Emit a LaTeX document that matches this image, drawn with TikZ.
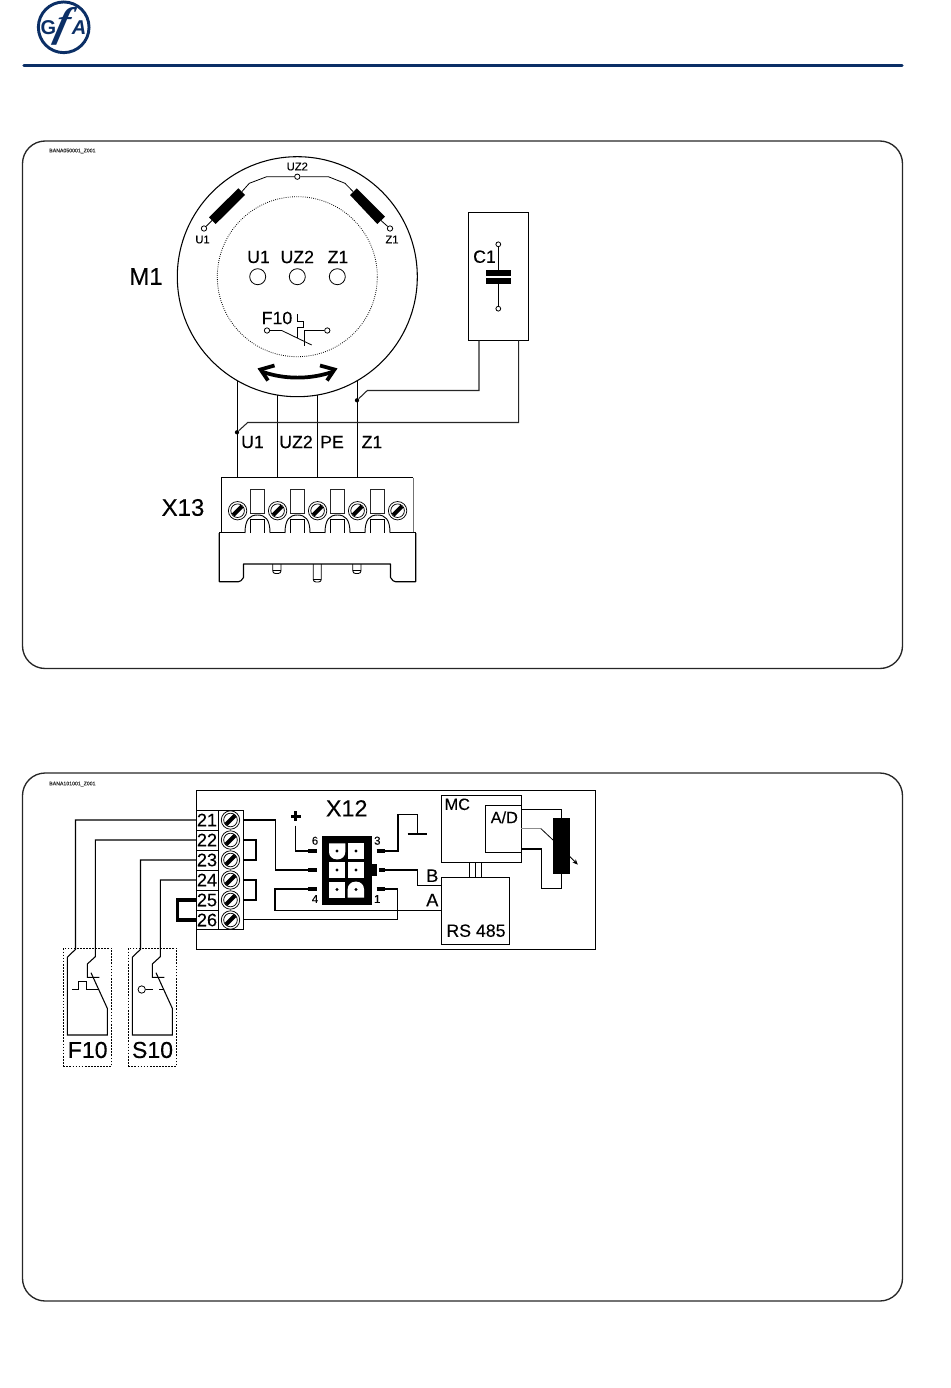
\documentclass[tikz,border=0pt]{standalone}
\usepackage{fontspec}
\setmainfont{Liberation Sans}
\newfontfamily\logoserif{Liberation Serif}
\newfontfamily\lab{Liberation Sans}[FakeBold=0.18]
\usetikzlibrary{arrows.meta}
\definecolor{gfablue}{HTML}{0B2F66}
\newcommand{\fsz}[1]{\lab\fontsize{#1}{#1}\selectfont}
\newcommand{\lgz}[1]{\fontsize{#1}{#1}\selectfont}
\tikzset{
  x=.75pt,y=-.75pt,
  wire/.style={line width=.8pt,black,line join=miter},
  thin wire/.style={line width=.6pt,black},
  frame box/.style={line width=1pt,black!85,rounded corners=17pt},
  box/.style={draw,line width=.8pt,black,fill=none,rectangle,inner sep=0,outer sep=0},
  jumper/.style={line width=2pt,black},
  term/.style={circle,draw,line width=.6pt,fill=white,inner sep=0,minimum size=4pt},
  dotpt/.style={circle,fill=black,inner sep=0,minimum size=3.2pt},
  txt/.style={inner sep=0,text=black},
  big/.style={txt,font=\fsz{18}},
  mid/.style={txt,font=\fsz{13.3}},
  small/.style={txt,font=\fsz{8.4}},
  num/.style={txt,font=\fsz{13.6}},
  pinbar/.style={line width=3pt,black},
  swbox/.style={draw,dash pattern=on 1.3pt off 1pt,line width=.6pt,minimum width=36.3pt,minimum height=88.3pt,anchor=north west,inner sep=0,outer sep=0},
  screw/.pic={
    \draw[line width=.55pt,fill=white] (0,0) circle[radius=9.2];
    \draw[line width=.55pt] (0,0) circle[radius=6.8];
    \draw[line width=3pt,black] (-4.4,4.4) -- (4.4,-4.4);
  },
  cell/.style={fill=white,draw=none},
  celldot/.style={fill=black,draw=none}
}
\begin{document}
\begin{tikzpicture}
\useasboundingbox (0,0) rectangle (950,1388);
% --- header ---
\draw[gfablue,line width=2.4pt,line cap=round] (24,65.5) -- (902,65.5);
\node[circle,draw=gfablue,line width=2.2pt,minimum size=38pt,inner sep=0] (logo) at (63.7,27.3) {};
\node[txt,text=gfablue,font=\lgz{15}\bfseries] (logoG) at (48.5,27.8) {G};
\node[txt,text=gfablue,font=\lgz{15}\bfseries\itshape] (logoA) at (79,27.8) {A};
\node[txt,text=gfablue,font=\logoserif\lgz{31}\bfseries\itshape,xslant=.25] (logoF) at (62.5,26.5) {f};
% --- frames ---
\draw[frame box] (22.5,141) rectangle (902.5,668.5);
\draw[frame box] (22.5,773) rectangle (902.5,1301);
\node[txt,font=\fsz{3.9},text=black!80,anchor=west] (ref1) at (49,151) {BANA050001\_Z001};
\node[txt,font=\fsz{3.9},text=black!80,anchor=west] (ref2) at (49,784) {BANA101001\_Z001};
% --- motor ---
\node[circle,draw,line width=.8pt,minimum size=180pt,inner sep=0,outer sep=0] (motor) at (297.3,276.7) {};
\node[circle,draw,densely dotted,line width=.6pt,minimum size=120pt,inner sep=0,outer sep=0] (rotor) at (297.3,276.7) {};
\node[circle,draw,line width=.6pt,minimum size=12pt,inner sep=0] (hU) at (257.7,276.7) {};
\node[circle,draw,line width=.6pt,minimum size=12pt,inner sep=0] (hUZ) at (297.3,276.7) {};
\node[circle,draw,line width=.6pt,minimum size=12pt,inner sep=0] (hZ) at (337.3,276.7) {};
\node[mid] (lU1) at (258.5,257) {U1};
\node[mid] (lUZ2) at (297.3,257) {UZ2};
\node[mid] (lZ1) at (338,257) {Z1};
\node[big] (lM1) at (146,276.5) {M1};
\node[small] (sU1) at (202.5,239.5) {U1};
\node[small] (sZ1) at (392,239.5) {Z1};
\node[small] (sUZ2) at (297.3,166.5) {UZ2};
% windings
\fill[black] (238.3,188.3) -- (245,195) -- (215.7,224) -- (209,217.3) -- cycle;
\fill[black] (356.7,188.3) -- (350,195) -- (377.3,224) -- (385,216.7) -- cycle;
\node[term] (tUZ) at (297.3,176.7) {};
\node[term] (tU) at (204,228.5) {};
\node[term] (tZ) at (390,228.5) {};
\draw[thin wire] (242,191.5) -- (249.3,183.3) -- (266.7,176.7) -- (tUZ);
\draw[thin wire] (tUZ) -- (328.3,176.7) -- (345,183.3) -- (353,191.5);
\draw[thin wire] (tU) -- (212,220.5);
\draw[thin wire] (tZ) -- (381,220.5);
% F10 in motor
\node[mid] (lF10) at (277,318) {F10};
\node[term] (f1) at (267,330.5) {};
\node[term] (f2) at (327.3,330.5) {};
\draw[thin wire] (f1) -- (281.7,330.5) -- (311.7,345);
\draw[thin wire] (f2) -- (304.3,330.5) -- (304.3,345.7);
\draw[thin wire] (297.3,314.3) -- (297.3,321) -- (303.3,321) -- (303.3,327.5) -- (297.3,327.5) -- (297.3,338);
% rotation arrow
\draw[line width=2.8pt] (263,372) .. controls (285,379.5) and (310,379.5) .. (332,372);
\draw[line width=2.8pt,line join=miter] (274.5,365.5) -- (260.5,369.5) -- (268,380.5);
\draw[line width=2.8pt,line join=miter] (320,365.5) -- (334.5,369.5) -- (327,380.5);
% --- capacitor ---
\node[box,minimum width=45.3pt,minimum height=96pt,anchor=north west] (C1) at (468.3,212.3) {};
\node[term,minimum size=3.6pt] (c1) at (498.3,244.3) {};
\node[term,minimum size=3.6pt] (c2) at (498.3,308.7) {};
\fill (486,270) rectangle (511,276);
\fill (486,278) rectangle (511,283.5);
\draw[thin wire] (c1) -- (498.3,272);
\draw[thin wire] (c2) -- (498.3,280);
\node[mid] (lC1) at (484.5,256.7) {C1};
% --- X13 ---
\node[big] (lX13) at (183,507.5) {X13};
\coordinate (x1) at (237.3,477.7);
\coordinate (x2) at (277.3,477.7);
\coordinate (x3) at (317.3,477.7);
\coordinate (x4) at (357.3,477.7);
\draw[wire] (x1) -- (237.3,380.6);
\draw[wire] (x2) -- (277.3,395);
\draw[wire] (x3) -- (317.3,395);
\draw[wire] (x4) -- (357.3,380.6);
\node[dotpt] (d1) at (237,432.3) {};
\node[dotpt] (d2) at (357,400.3) {};
\coordinate (cb1) at (479,340.3);
\coordinate (cb2) at (518.7,340.3);
\draw[wire,black!85] (d2) -- (367.3,390.5) -- (479,390.5) -- (cb1);
\draw[wire,black!85] (d1) -- (247.7,422.5) -- (518.7,422.5) -- (cb2);
\node[mid] (wU1) at (252.5,442) {U1};
\node[mid] (wUZ2) at (296,442) {UZ2};
\node[mid] (wPE) at (332,442) {PE};
\node[mid] (wZ1) at (372,442) {Z1};
\draw[line width=.8pt,black] (221.3,532) -- (221.3,477.7) -- (413.3,477.7);
\draw[line width=.8pt,black!55] (413.3,477.7) -- (413.3,532);
\foreach \i in {0,1,2,3}{
  \draw[line width=.6pt,black!85] (250.3+40*\i,489.3) rectangle (264.7+40*\i,513.3);
  \draw[line width=.6pt] (250.3+40*\i,533) -- (250.3+40*\i,519.3) -- (264.7+40*\i,519.3) -- (264.7+40*\i,533);
  \draw[line width=.7pt] (245+40*\i,533) .. controls (245+40*\i,519) and (250+40*\i,515) .. (257.5+40*\i,515) .. controls (265+40*\i,515) and (270+40*\i,519) .. (270+40*\i,533);
}
\foreach \xa/\xb in {219.3/245,270/285,310/325,350/365,390/415.7}{
  \draw[line width=1.3pt] (\xa,532.6) -- (\xb,532.6);
}
\foreach \i in {0,1,2,3,4}{
  \pic at (237.6+40*\i,510.7) {screw};
}
\draw[line width=.85pt,line join=round] (219.3,533) -- (219.3,581.7) -- (238.5,581.7) -- (241,580.7) -- (243.5,577.5) -- (243.5,564) -- (390.5,564) -- (390.5,577.5) -- (393,580.7) -- (395.5,581.7) -- (415.7,581.7) -- (415.7,533);
\foreach \xa/\xb/\yb in {272.7/281/573.5,313.2/321.3/582,352.8/361/573.5}{
  \draw[line width=.65pt,rounded corners=2pt] (\xa,564) -- (\xa,\yb) -- (\xb,\yb) -- (\xb,564);
  \draw[line width=.5pt] (\xa,\yb-3) -- (\xb,\yb-3);
}
% --- second diagram ---
\node[box,minimum width=299.55pt,minimum height=119.25pt,anchor=north west] (board) at (196.3,790.3) {};
\node[box,fill=white,minimum width=35.25pt,minimum height=89.25pt,anchor=north west] (strip) at (196.3,810.3) {};
\draw[wire] (218.7,810.3) -- (218.7,929.6);
\foreach \y in {830.3,850.3,870.3,890.3,910.3}{\draw[wire] (196.3,\y) -- (218.7,\y);}
\foreach \n/\y in {21/820,22/840,23/860,24/880,25/900,26/920}{
  \node[num] (n\n) at (207,\y) {\n};
  \pic at (230.5,\y) {screw};
  \coordinate (tl\n) at (196.3,\y);
  \coordinate (tr\n) at (243.3,\y);
}
% X12 connector
\fill[black] (321.7,835.7) rectangle (371.7,905);
\fill[black] (371.7,864.3) rectangle (376.7,875.7);
\foreach \cx/\cy in {347.7/843.3,329/862.3,347.7/862.3,329/881.7}{
  \fill[cell] (\cx,\cy) rectangle (\cx+16.3,\cy+16);
}
\fill[cell] (329,843.3) -- (345.3,843.3) [rounded corners=5.5pt] -- (345.3,859.3) -- (329,859.3) [sharp corners] -- cycle;
\fill[cell] (347.7,897.7) -- (364,897.7) [rounded corners=5.5pt] -- (364,881.7) -- (347.7,881.7) [sharp corners] -- cycle;
\foreach \cx/\cy in {337/851,356/851,337/870,356/870,337/889.5,356/889.5}{
  \fill[celldot] (\cx,\cy) circle[radius=1.6];
}
\node[big,font=\fsz{17.5}] (lX12) at (346.7,808.3) {X12};
\node[txt,font=\fsz{8.6}] (p6) at (315,840.7) {6};
\node[txt,font=\fsz{8.6}] (p3) at (377.3,840.7) {3};
\node[txt,font=\fsz{8.6}] (p4) at (315,899) {4};
\node[txt,font=\fsz{8.6}] (p1) at (377.3,899) {1};
\foreach \n/\xa/\xb/\y in {L6/308.3/316.7/851,L5/308.3/316.7/870,L4/308.3/316.7/889,R3/376.7/385/851,R2/379.3/385/870,R1/376.7/385/889}{
  \draw[pinbar] (\xa,\y) -- (\xb,\y);
  \coordinate (pin\n) at (\ifdim\xa pt<340pt \xa\else \xb\fi,\y);
}
% boxes on the board
\node[box,minimum width=59.7pt,minimum height=50.25pt,anchor=north west] (MC) at (441.7,795.3) {};
\node[box,minimum width=27pt,minimum height=35pt,anchor=north west] (AD) at (485.3,805.7) {};
\node[box,minimum width=51pt,minimum height=50.25pt,anchor=north west] (RS) at (441.7,877.3) {};
\node[num,font=\fsz{12.2}] (lMC) at (457.3,804.3) {MC};
\node[num,font=\fsz{12.2}] (lAD) at (504.3,817.3) {A/D};
\node[num,font=\fsz{13.3}] (lRS) at (476,930.7) {RS 485};
\node[num] (lB) at (432.3,875.7) {B};
\node[num] (lA) at (432.3,900) {A};
\foreach \x in {469.3,475,481}{\draw[thin wire] (\x,862.3) -- (\x,877.3);}
% plus and ground
\fill[black] (294.2,811) rectangle (297.2,821);
\fill[black] (290.8,814.5) rectangle (300.6,817.5);
\coordinate (plus) at (295.7,825.7);
\draw[wire] (plus) -- (295.7,851) -- (pinL6);
\coordinate (gnd) at (417.3,834);
\draw[wire] (pinR3) -- (398,851) -- (398,814.3) -- (417.3,814.3) -- (gnd);
\draw[line width=1.9pt] (407.7,834) -- (427.3,834);
% connections
\draw[wire] (tr21) -- (275.3,820) -- (275.3,870) -- (pinL5);
\draw[wire] (pinR2) -- (417.7,870) -- (417.7,885.3) -- (441.7,885.3);
\draw[wire] (pinL4) -- (275,889) -- (275,910.3) -- (441.7,910.3);
\draw[wire] (pinR1) -- (397.3,889) -- (397.3,919.3) -- (243.3,919.3);
% jumpers
\draw[jumper] (tr22) -- (256,840) -- (256,860) -- (tr23);
\draw[jumper] (tr24) -- (256,880) -- (256,900) -- (tr25);
\draw[line width=2.6pt,black] (tl25) -- (177.3,900) -- (177.3,920) -- (tl26);
% potentiometer
\coordinate (potT) at (561.3,818.3);
\coordinate (potB) at (561.3,874.3);
\draw[wire] (521.3,809.3) -- (561.3,809.3) -- (potT);
\draw[wire] (521.3,849) -- (541.7,849) -- (541.7,888.3) -- (561.3,888.3) -- (potB);
\draw[line width=1pt,black!45] (521.3,828.7) -- (541,828.7);
\draw[thin wire] (541,828.7) -- (553,840);
\fill[black] (553.3,818.3) rectangle (570,874.3);
\draw[thin wire,-{Stealth[length=4pt,width=3.4pt]}] (569.3,856) -- (577.8,864.6);
% F10 / S10 switches
\node[swbox] (boxF) at (63.3,948.3) {};
\node[swbox] (boxS) at (128.3,948.3) {};
\draw[wire] (tl21) -- (75.5,820) -- (75.5,949.3) -- (67.3,957.3) -- (67.3,1035) -- (107.3,1035) -- (107.3,1008.3) -- (91,972.7);
\draw[wire] (tl22) -- (95.3,840) -- (95.3,956.7) -- (87.3,964) -- (87.3,977.3) -- (99.3,977.3);
\draw[wire] (tl23) -- (140.5,860) -- (140.5,949.3) -- (132.3,957.3) -- (132.3,1035) -- (172.3,1035) -- (172.3,1008.3) -- (156,972.7);
\draw[wire] (tl24) -- (160.3,880) -- (160.3,956.7) -- (152.3,964) -- (152.3,977.3) -- (164.3,977.3);
\draw[thin wire] (72.3,989.3) -- (78.3,989.3) -- (78.3,981.7) -- (86,981.7) -- (86,989.3) -- (98.3,989.3);
\node[circle,draw,line width=.6pt,minimum size=5.5pt,inner sep=0] (sw) at (141.7,989.5) {};
\draw[thin wire] (sw) -- (153.3,989.5);
\draw[thin wire] (159,989.5) -- (163.3,989.5);
\node[txt,font=\fsz{17.3}] (lF) at (87.7,1050) {F10};
\node[txt,font=\fsz{17.3}] (lS) at (152.5,1050) {S10};
\end{tikzpicture}
\end{document}
